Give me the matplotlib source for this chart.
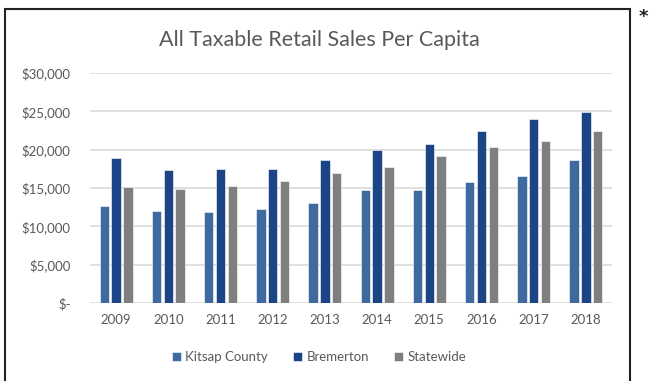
import matplotlib
matplotlib.use("Agg")
import matplotlib.pyplot as plt
import numpy as np
from matplotlib.patches import Rectangle
from matplotlib.ticker import FuncFormatter

years = ["2009", "2010", "2011", "2012", "2013", "2014", "2015", "2016", "2017", "2018"]
kitsap = [12700, 12050, 11900, 12250, 13050, 14750, 14750, 15750, 16600, 18600]
bremerton = [18950, 17300, 17450, 17450, 18600, 20000, 20800, 22500, 24050, 24900]
statewide = [15100, 14900, 15250, 15900, 16950, 17800, 19150, 20350, 21150, 22500]

series = [("Kitsap County", kitsap, "#3E6A9F"),
          ("Bremerton", bremerton, "#1B4584"),
          ("Statewide", statewide, "#7F7F7F")]

plt.rcParams["font.family"] = ["Lato", "DejaVu Sans"]

fig = plt.figure(figsize=(6.49, 3.81), dpi=100)
ax = fig.add_axes([90 / 649, 1 - 303 / 381, (612 - 90) / 649, (303 - 73) / 381])

x = np.arange(len(years))
width = 0.18
step = 0.225
for i, (name, vals, color) in enumerate(series):
    ax.bar(x + (i - 1) * step, vals, width, color=color, label=name,
           edgecolor="white", linewidth=0.4, zorder=3)

ax.set_xlim(-0.5, len(years) - 0.5)
ax.set_ylim(0, 30000)
ax.set_yticks(range(0, 30001, 5000))
ax.yaxis.set_major_formatter(FuncFormatter(lambda v, p: "$-" if v == 0 else f"${v:,.0f}"))
ax.set_xticks(x)
ax.set_xticklabels(years)
ax.grid(axis="y", color="#D9D9D9", linewidth=1.2, zorder=0)
for s in ax.spines.values():
    s.set_visible(False)
ax.tick_params(axis="both", length=0, labelsize=9.5, colors="#595959")
ax.tick_params(axis="x", pad=8)
ax.tick_params(axis="y", pad=14)

fig.text(319 / 649, 1 - 40 / 381, "All Taxable Retail Sales Per Capita",
         ha="center", va="center", fontsize=15.5, color="#595959")

ax.legend(loc="center", bbox_to_anchor=(319 / 649, 1 - 357 / 381),
          bbox_transform=fig.transFigure, ncol=3, frameon=False,
          fontsize=9.5, labelcolor="#595959", handlelength=0.7, handleheight=0.7,
          handletextpad=0.3, columnspacing=1.9)

fig.patches.append(Rectangle((5 / 649, -0.05), (630 - 5) / 649, 1.05 - 9 / 381,
                             transform=fig.transFigure, fill=False,
                             edgecolor="#222222", linewidth=1.5))
fig.text(643 / 649, 1 - 17 / 381, "*", ha="center", va="center", fontsize=13,
         color="#222222", fontweight="bold", family="DejaVu Sans")

fig.savefig("out.png", dpi=100)
